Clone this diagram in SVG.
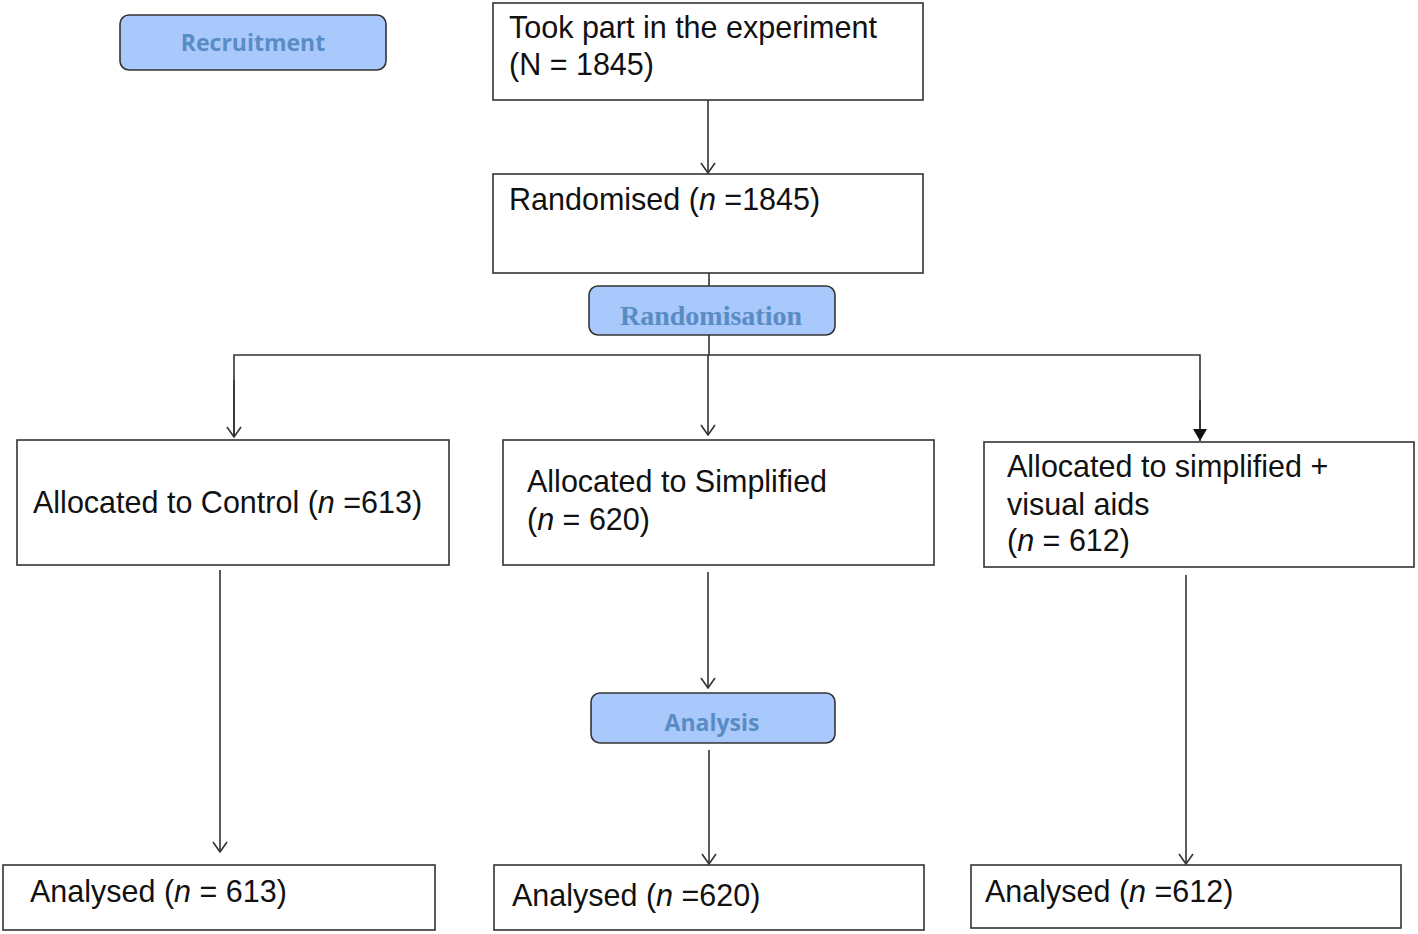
<svg xmlns="http://www.w3.org/2000/svg" width="1418" height="934" viewBox="0 0 1418 934">
<style>
.box{fill:#fff;stroke:#333;stroke-width:1.6}
.lbl{fill:#a9c8fb;stroke:#333;stroke-width:1.6}
.t{font-family:"Liberation Sans",Arial,sans-serif;font-size:30.5px;fill:#111}
.lt{font-family:"Open Sans","DejaVu Sans",sans-serif;font-weight:bold;font-size:23px;fill:#5a8cc4;text-anchor:middle}
.ls{font-family:"Liberation Serif","DejaVu Serif",serif;font-weight:bold;font-size:28px;fill:#5a8cc4;text-anchor:middle}
.c{fill:none;stroke:#333;stroke-width:1.6}
</style>
<defs>
<marker id="open" markerWidth="12" markerHeight="16" refX="11" refY="8" orient="auto" markerUnits="userSpaceOnUse" viewBox="0 0 12 16">
<path d="M1,1 L11,8 L1,15" fill="none" stroke="#333" stroke-width="1.6"/>
</marker>
<marker id="filled" markerWidth="12" markerHeight="14" refX="12" refY="7" orient="auto" markerUnits="userSpaceOnUse" viewBox="0 0 12 14">
<path d="M0,0 L12,7 L0,14 Z" fill="#111"/>
</marker>
</defs>
<g id="connectors">
<line class="c" x1="708" y1="100" x2="708" y2="173" marker-end="url(#open)"/>
<line class="c" x1="709" y1="273" x2="709" y2="286"/>
<line class="c" x1="709" y1="335" x2="709" y2="355"/>
<polyline class="c" points="234,436 234,355 1200,355 1200,430"/>
<line class="c" x1="234" y1="380" x2="234" y2="437" marker-end="url(#open)"/>
<line class="c" x1="708" y1="355" x2="708" y2="435" marker-end="url(#open)"/>
<line class="c" x1="1200" y1="400" x2="1200" y2="441" marker-end="url(#filled)"/>
<line class="c" x1="220" y1="570" x2="220" y2="852" marker-end="url(#open)"/>
<line class="c" x1="708" y1="572" x2="708" y2="688" marker-end="url(#open)"/>
<line class="c" x1="709" y1="750" x2="709" y2="864" marker-end="url(#open)"/>
<line class="c" x1="1186" y1="575" x2="1186" y2="864" marker-end="url(#open)"/>
</g>
<g id="recruitment">
<rect class="lbl" x="120" y="15" width="266" height="55" rx="9"/>
<text class="lt" x="253" y="51">Recruitment</text>
</g>
<g id="took-part">
<rect class="box" x="493" y="3" width="430" height="97"/>
<text class="t" x="509" y="38">Took part in the experiment</text>
<text class="t" x="509" y="75">(N = 1845)</text>
</g>
<g id="randomised">
<rect class="box" x="493" y="174" width="430" height="99"/>
<text class="t" x="509" y="210">Randomised (<tspan font-style="italic">n</tspan> =1845)</text>
</g>
<g id="randomisation">
<rect class="lbl" x="589" y="286" width="246" height="49" rx="9"/>
<text class="ls" x="711" y="325">Randomisation</text>
</g>
<g id="control">
<rect class="box" x="17" y="440" width="432" height="125"/>
<text class="t" x="33" y="513">Allocated to Control (<tspan font-style="italic">n</tspan> =613)</text>
</g>
<g id="simplified">
<rect class="box" x="503" y="440" width="431" height="125"/>
<text class="t" x="527" y="492">Allocated to Simplified</text>
<text class="t" x="527" y="530">(<tspan font-style="italic">n</tspan> = 620)</text>
</g>
<g id="simplified-visual">
<rect class="box" x="984" y="442" width="430" height="125"/>
<text class="t" x="1007" y="477">Allocated to simplified +</text>
<text class="t" x="1007" y="515">visual aids</text>
<text class="t" x="1007" y="551">(<tspan font-style="italic">n</tspan> = 612)</text>
</g>
<g id="analysis">
<rect class="lbl" x="591" y="693" width="244" height="50" rx="9"/>
<text class="lt" x="712" y="731">Analysis</text>
</g>
<g id="analysed-control">
<rect class="box" x="3" y="865" width="432" height="65"/>
<text class="t" x="30" y="902">Analysed (<tspan font-style="italic">n</tspan> = 613)</text>
</g>
<g id="analysed-simplified">
<rect class="box" x="494" y="865" width="430" height="65"/>
<text class="t" x="512" y="906">Analysed (<tspan font-style="italic">n</tspan> =620)</text>
</g>
<g id="analysed-visual">
<rect class="box" x="971" y="865" width="430" height="63"/>
<text class="t" x="985" y="902">Analysed (<tspan font-style="italic">n</tspan> =612)</text>
</g>
</svg>
